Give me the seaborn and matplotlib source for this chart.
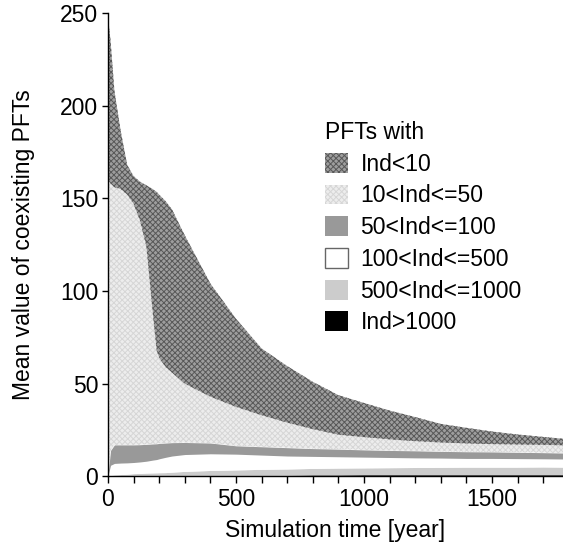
import matplotlib
matplotlib.use("Agg")
import matplotlib.pyplot as plt
import numpy as np
import pandas as pd
import seaborn as sns
from matplotlib.patches import Patch
from matplotlib.ticker import MultipleLocator, FixedLocator

# ---- data (mean number of coexisting PFTs per abundance class) ----
years = [0, 10, 25, 50, 75, 100, 125, 150, 175, 190, 200, 225, 250, 300, 400, 500, 600,
         700, 800, 900, 1000, 1100, 1200, 1300, 1400, 1500, 1600, 1700, 1777]
ind_gt_1000 = [0, 0, 0, 0, 0, 0, 0, 0, 0, 0, 0, 0.1, 0.2, 0.2, 0.2, 0.3, 0.4,
               0.6, 0.8, 0.8, 0.9, 0.9, 0.9, 0.9, 0.9, 0.9, 0.9, 0.9, 0.9]
ind_500_1000 = [0, 0.5, 0.8, 1.0, 1.2, 1.5, 1.6, 1.8, 1.9, 1.95, 2.0, 1.95, 2.1, 2.5, 3.0, 3.2, 3.4,
                3.4, 3.5, 3.7, 3.7, 3.8, 3.9, 4.0, 4.1, 4.1, 4.1, 4.2, 4.1]
ind_100_500 = [0.5, 5.5, 6.2, 6.2, 6.1, 6.0, 6.2, 6.4, 6.9, 7.15, 7.5, 8.25, 8.7, 9.1, 9.0, 8.5, 7.7,
               7.0, 6.5, 6.1, 5.8, 5.5, 5.2, 5.0, 4.7, 4.7, 4.6, 4.4, 4.4]
ind_50_100 = [0.5, 8.0, 10.0, 9.8, 9.7, 9.5, 9.3, 9.1, 8.7, 8.5, 8.3, 7.7, 7.2, 6.5, 5.8, 4.5, 4.5,
              4.5, 4.2, 4.1, 3.9, 3.8, 3.8, 3.6, 3.6, 3.5, 3.4, 3.3, 3.2]
ind_10_50 = [159, 144, 139, 138, 135, 130, 120.9, 106.7, 70.5, 50.4, 46.2, 41, 37.8, 31.7, 25, 21, 17,
             13.5, 10.5, 7.8, 6.9, 6.0, 5.2, 4.8, 4.5, 4.2, 4.2, 4.2, 4.2]
ind_lt_10 = [88, 77, 52, 31, 16, 15, 21, 33, 67, 85.5, 88, 89.5, 88, 80, 61, 47.5, 36,
             30.5, 25.5, 21.3, 18.4, 15.5, 13, 10, 8.4, 6.8, 5.4, 4.3, 3.5]

class_labels = ["Ind>1000", "500<Ind<=1000", "100<Ind<=500",
                "50<Ind<=100", "10<Ind<=50", "Ind<10"]
legend_title = "PFTs with"
x_label = "Simulation time [year]"
y_label = "Mean value of coexisting PFTs"
x_major_ticks = [0, 500, 1000, 1500]
y_ticks = [0, 50, 100, 150, 200, 250]

df = pd.DataFrame({
    "Ind>1000": ind_gt_1000,
    "500<Ind<=1000": ind_500_1000,
    "100<Ind<=500": ind_100_500,
    "50<Ind<=100": ind_50_100,
    "10<Ind<=50": ind_10_50,
    "Ind<10": ind_lt_10,
}, index=years)
cum = df[class_labels].cumsum(axis=1)

# ---- style ----
sns.set_style("ticks")
plt.rcParams["font.family"] = ["Liberation Sans", "DejaVu Sans"]
plt.rcParams["hatch.linewidth"] = 0.7
for k in ["text.color", "axes.labelcolor", "xtick.color", "ytick.color", "axes.edgecolor"]:
    plt.rcParams[k] = "black"
FS = 16.5

styles = {
    "Ind>1000": dict(facecolor="#000000", edgecolor="#000000", hatch=None),
    "500<Ind<=1000": dict(facecolor="#cccccc", edgecolor="#cccccc", hatch=None),
    "100<Ind<=500": dict(facecolor="#ffffff", edgecolor="#ffffff", hatch=None),
    "50<Ind<=100": dict(facecolor="#999999", edgecolor="#999999", hatch=None),
    "10<Ind<=50": dict(facecolor="#ededed", edgecolor="#d6d6d6", hatch="xxxxxx"),
    "Ind<10": dict(facecolor="#9e9e9e", edgecolor="#585858", hatch="xxxxxx"),
}

fig = plt.figure(figsize=(5.63, 5.54), dpi=100)
ax = fig.add_axes([108 / 563, 1 - 476.4 / 554, 1 - 108 / 563, (476.4 - 13) / 554])

bottom = np.zeros(len(years))
for lab in class_labels:
    top = cum[lab].to_numpy()
    st = styles[lab]
    ax.fill_between(years, bottom, top, facecolor=st["facecolor"],
                    edgecolor=st["edgecolor"], hatch=st["hatch"], linewidth=0)
    bottom = top

ax.set_xlim(0, 1777)
ax.set_ylim(0, 250)
ax.xaxis.set_major_locator(FixedLocator(x_major_ticks))
ax.xaxis.set_minor_locator(MultipleLocator(100))
ax.yaxis.set_major_locator(FixedLocator(y_ticks))
ax.tick_params(which="both", direction="out", length=5, width=1.0, labelsize=FS, pad=3)
ax.tick_params(axis="y", length=4)
sns.despine(ax=ax)
for s in ["left", "bottom"]:
    ax.spines[s].set_linewidth(1.0)

ax.set_xlabel(x_label, fontsize=FS, labelpad=6)
ax.set_ylabel(y_label, fontsize=FS, labelpad=18)

handles = []
for lab in class_labels[::-1]:
    st = styles[lab]
    if lab == "100<Ind<=500":
        handles.append(Patch(facecolor="white", edgecolor="#666666", linewidth=1.0))
    else:
        handles.append(Patch(facecolor=st["facecolor"], edgecolor=st["edgecolor"],
                             hatch=st["hatch"], linewidth=0))
leg = ax.legend(handles, class_labels[::-1], title=legend_title,
                loc="upper left", bbox_to_anchor=(325 / 563, 1 - 121 / 554),
                bbox_transform=fig.transFigure, frameon=False, fontsize=FS,
                title_fontsize=FS, handlelength=1.0, handleheight=0.95,
                handletextpad=0.55, labelspacing=0.38, borderpad=0,
                borderaxespad=0, alignment="left")

fig.savefig("out.png", dpi=100)
